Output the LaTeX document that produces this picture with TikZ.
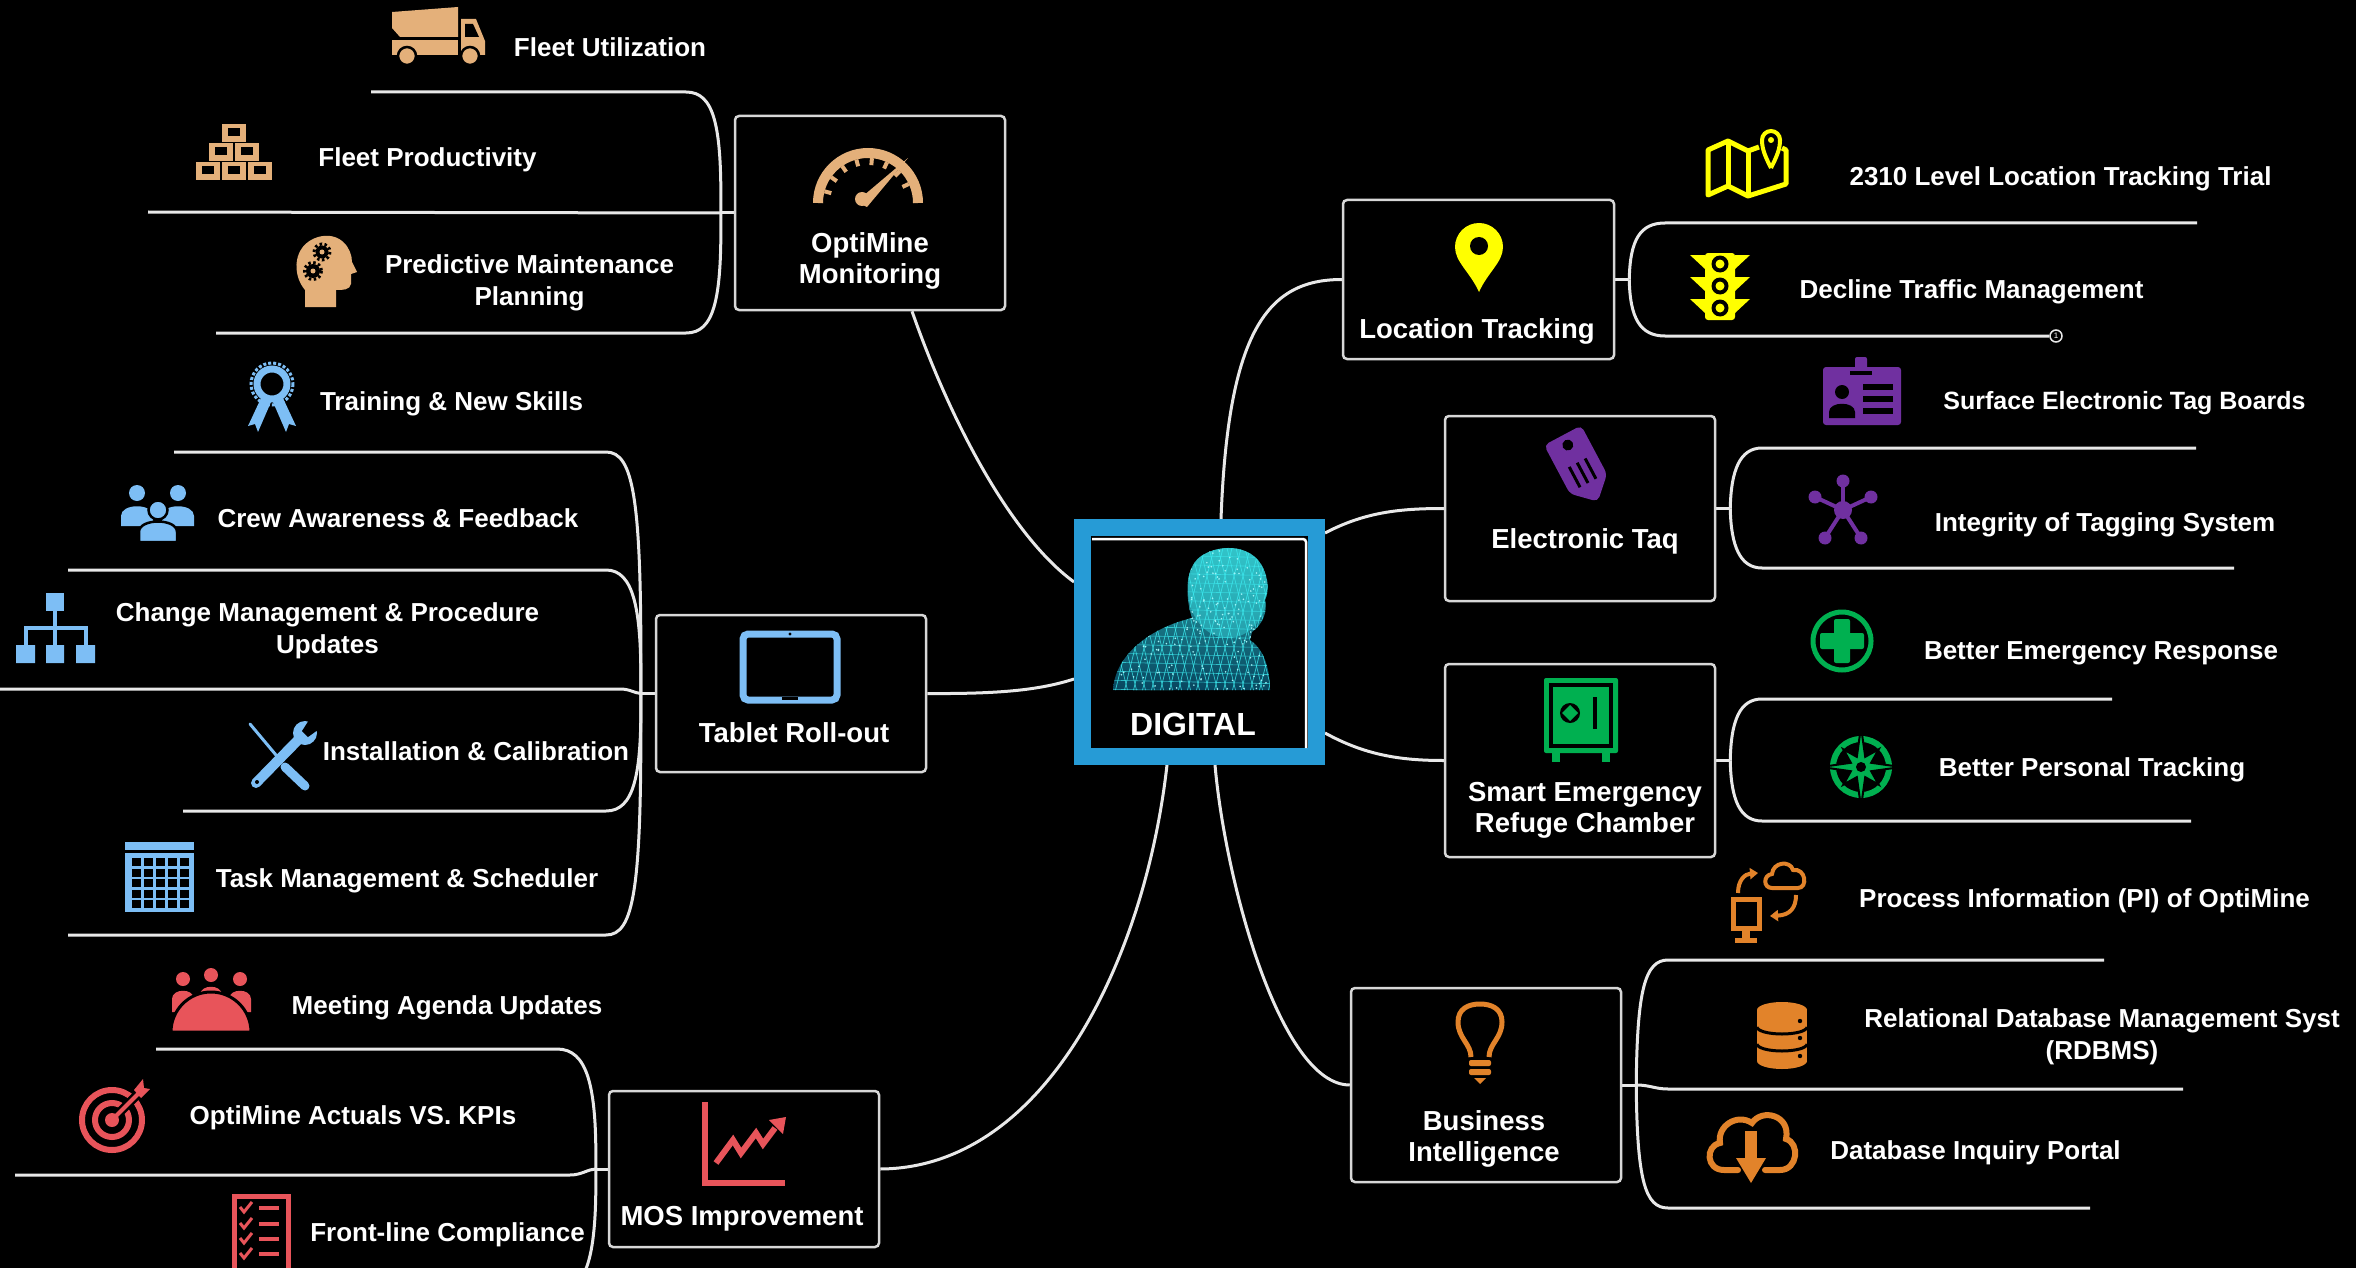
\documentclass[tikz,border=0pt]{standalone}
\usepackage{fontspec}
\setmainfont{Liberation Sans}
\usetikzlibrary{calc,arrows.meta}
\definecolor{lineC}{RGB}{232,232,232}
\definecolor{boxC}{RGB}{215,215,215}
\definecolor{digBlue}{RGB}{38,155,214}
\definecolor{bustC}{RGB}{60,235,240}
\definecolor{bustD}{RGB}{8,70,95}
\definecolor{icTan}{RGB}{228,176,122}
\definecolor{icYel}{RGB}{255,255,0}
\definecolor{icPur}{RGB}{112,48,160}
\definecolor{icGrn}{RGB}{0,176,80}
\definecolor{icOrg}{RGB}{226,131,42}
\definecolor{icBlu}{RGB}{125,190,245}
\definecolor{icRed}{RGB}{232,84,90}
\pgfdeclarelayer{bg}
\pgfsetlayers{bg,main}
\begin{document}
\begin{tikzpicture}[x=1pt,y=-1pt,
  conn/.style={draw=lineC,line width=3},
  box/.style={draw=boxC,line width=2.5,rounded corners=4,minimum width=270,inner sep=0},
  btextm/.style={text=white,font=\bfseries\fontsize{27.5}{31}\selectfont,align=center,inner sep=0},
  btext/.style={btextm,text height=20,text depth=0},
  leafm/.style={text=white,font=\bfseries\fontsize{26}{32}\selectfont,align=center,inner sep=0},
  leaf/.style={leafm,text height=19,text depth=0}]
\useasboundingbox (0,0) rectangle (2356,1268);

% ---------- topic boxes ----------
\node[box,minimum height=194] (opti) at (870,213) {};
\node[box,minimum width=271,minimum height=159] (loc) at (1478.5,279.5) {};
\node[box,minimum height=185] (etag) at (1580,508.5) {};
\node[box,minimum height=193] (smart) at (1580,760.5) {};
\node[box,minimum height=194] (bi) at (1486,1085) {};
\node[box,minimum height=157] (tablet) at (791,693.5) {};
\node[box,minimum height=156] (mos) at (744,1169) {};
\node[draw=digBlue,line width=17,minimum width=234,minimum height=229,inner sep=0] (digital) at (1199.5,642) {};

% ---------- central bust ----------
\shade[top color=bustC!75!black,bottom color=bustD]
  (1113,690) .. controls (1115,655) and (1150,628) .. (1192,618)
  .. controls (1186,600) and (1185,575) .. (1195,562)
  .. controls (1205,548) and (1240,540) .. (1258,560)
  .. controls (1268,572) and (1270,590) .. (1265,600)
  .. controls (1268,612) and (1262,625) .. (1252,632) -- (1250,640)
  .. controls (1262,648) and (1270,665) .. (1270,690) -- cycle;
\begin{scope}
  \clip (1113,690) .. controls (1115,655) and (1150,628) .. (1192,618)
  .. controls (1186,600) and (1185,575) .. (1195,562)
  .. controls (1205,548) and (1240,540) .. (1258,560)
  .. controls (1268,572) and (1270,590) .. (1265,600)
  .. controls (1268,612) and (1262,625) .. (1252,632) -- (1250,640)
  .. controls (1262,648) and (1270,665) .. (1270,690) -- cycle;
  \fill[bustC,opacity=0.4] (1228,590) ellipse (40 and 48);
  \foreach \i in {0,...,24} {
    \draw[bustC,line width=0.7,opacity=0.8] (1090+\i*9,540) -- (1050+\i*9,700);
    \draw[bustC,line width=0.7,opacity=0.8] (1090+\i*9,540) -- (1130+\i*9,700);
  }
  \foreach \j in {0,...,17} {
    \draw[bustC,line width=0.6,opacity=0.7] (1100,545+\j*9) -- (1290,549+\j*9);
  }
  \pgfmathsetseed{11}
  \foreach \k in {1,...,300} {
    \fill[bustC!50!white] ({1110+160*rnd},{540+150*rnd}) circle (0.9);
  }
\end{scope}
\draw[white,line width=2.5] (1092,539) -- (1303,539) arc[start angle=270,end angle=360,radius=3] -- (1306,748);
\node[text=white,font=\bfseries\fontsize{32}{36}\selectfont,inner sep=0,text height=23,text depth=0] (digT) at (1193,724) {DIGITAL};

% ---------- topic labels ----------
\node[btextm] (optiT) at (870,260.5) {OptiMine\\Monitoring};
\node[btext] (locT) at (1477,328) {Location Tracking};
\node[btext] (etagT) at (1585,538) {Electronic Taq};
\node[btextm] (smartT) at (1585,810.5) {Smart Emergency\\Refuge Chamber};
\node[btextm] (biT) at (1484,1139) {Business\\Intelligence};
\node[btext] (tabT) at (794,732) {Tablet Roll-out};
\node[btext] (mosT) at (742,1215) {MOS Improvement};

% ---------- leaf labels ----------
\node[leaf] (fu) at (610,47) {Fleet Utilization};
\node[leaf] (fp) at (427.5,157) {Fleet Productivity};
\node[leafm] (pm) at (529.5,283) {Predictive Maintenance\\Planning};
\node[leaf] (tn) at (451.5,401) {Training \& New Skills};
\node[leaf] (ca) at (398,518) {Crew Awareness \& Feedback};
\node[leafm] (cm) at (327.5,631) {Change Management \& Procedure\\Updates};
\node[leaf] (ic) at (476,751) {Installation \& Calibration};
\node[leaf] (tm) at (407,878) {Task Management \& Scheduler};
\node[leaf] (ma) at (447,1005) {Meeting Agenda Updates};
\node[leaf] (ok) at (353,1115) {OptiMine Actuals VS. KPIs};
\node[leaf] (fc) at (447.5,1232) {Front-line Compliance};
\node[leaf] (lt) at (2060.5,176) {2310 Level Location Tracking Trial};
\node[leaf] (dt) at (1971.5,289) {Decline Traffic Management};
\node[leaf,font=\bfseries\fontsize{25}{30}\selectfont] (sb) at (2124.5,400) {Surface Electronic Tag Boards};
\node[leaf] (it) at (2105,522) {Integrity of Tagging System};
\node[leaf] (er) at (2101,650) {Better Emergency Response};
\node[leaf] (pt) at (2092,767) {Better Personal Tracking};
\node[leaf] (pi) at (2084.5,898) {Process Information (PI) of OptiMine};
\node[leafm] (rd) at (2102,1036.5) {Relational Database Management Syst\\(RDBMS)};
\node[leaf] (di) at (1975.5,1150) {Database Inquiry Portal};
\node[circle,draw=lineC,fill=black,line width=1.5,inner sep=0,minimum size=12,text=white,font=\fontsize{8}{8}\selectfont] (badge) at (2056,336) {1};

% ---------- join points and underline ends ----------
\coordinate (J1) at ($(opti.west)+(-13,0)$);
\coordinate (J2) at ($(tablet.west)+(-14,0)$);
\coordinate (J3) at ($(mos.west)+(-12,0)$);
\coordinate (J4) at ($(loc.east)+(14,0)$);
\coordinate (J5) at ($(etag.east)+(14,0)$);
\coordinate (J6) at ($(smart.east)+(14,0)$);
\coordinate (J7) at ($(bi.east)+(14,0)$);
\coordinate (fuA) at (686,92);   \coordinate (fuB) at (371,92);
\coordinate (fpB) at (148,212);
\coordinate (pmA) at (686,333);  \coordinate (pmB) at (216,333);
\coordinate (tnA) at (606,452);  \coordinate (tnB) at (174,452);
\coordinate (caA) at (606,570);  \coordinate (caB) at (68,570);
\coordinate (cmA) at (620,689);  \coordinate (cmB) at (0,689);
\coordinate (icA) at (606,811);  \coordinate (icB) at (183,811);
\coordinate (tmA) at (606,935);  \coordinate (tmB) at (68,935);
\coordinate (maA) at (557,1049); \coordinate (maB) at (156,1049);
\coordinate (okA) at (570,1175); \coordinate (okB) at (15,1175);
\coordinate (fcA) at (557,1292); \coordinate (fcB) at (150,1292);
\coordinate (ltA) at (1665,223); \coordinate (ltB) at (2197,223);
\coordinate (dtA) at (1665,336);
\coordinate (sbA) at (1762,448); \coordinate (sbB) at (2196,448);
\coordinate (itA) at (1762,568); \coordinate (itB) at (2234,568);
\coordinate (erA) at (1762,699); \coordinate (erB) at (2112,699);
\coordinate (ptA) at (1762,821); \coordinate (ptB) at (2191,821);
\coordinate (piA) at (1668,960); \coordinate (piB) at (2104,960);
\coordinate (rdA) at (1668,1089); \coordinate (rdB) at (2183,1089);
\coordinate (diA) at (1668,1208); \coordinate (diB) at (2090,1208);

% ---------- connectors (behind the nodes) ----------
\begin{pgfonlayer}{bg}
\fill[black] (0,0) rectangle (2356,1268);
% central links
\draw[conn] ($(opti.south)+(42,0)$) .. controls (950,420) and (1010,535) .. ($(digital.west)+(0,-60)$);
\draw[conn] (tablet.east) .. controls (1000,694) and (1040,690) .. ($(digital.west)+(0,37)$);
\draw[conn] (mos.east) .. controls (1045,1168) and (1145,960) .. ($(digital.south)+(-32.5,0)$);
\draw[conn] ($(digital.north)+(21.5,0)$) .. controls (1228,330) and (1268,279.5) .. (loc.west);
\draw[conn] ($(digital.east)+(0,-109)$) .. controls (1365,512) and (1400,508.5) .. (etag.west);
\draw[conn] ($(digital.east)+(0,91)$) .. controls (1365,755) and (1400,760.5) .. (smart.west);
\draw[conn] ($(digital.south)+(15.5,0)$) .. controls (1225,880) and (1280,1085) .. (bi.west);
% OptiMine Monitoring branch
\draw[conn] (opti.west) -- (J1);
\draw[conn] (J1) .. controls (722,125) and (714,92) .. (fuA) -- (fuB);
\draw[conn] (J1) -- (fpB);
\draw[conn] (J1) .. controls (722,300) and (714,333) .. (pmA) -- (pmB);
% Tablet Roll-out branch
\draw[conn] (tablet.west) -- (J2);
\draw[conn] (J2) .. controls (642,500) and (634,452) .. (tnA) -- (tnB);
\draw[conn] (J2) .. controls (642,610) and (634,570) .. (caA) -- (caB);
\draw[conn] (J2) .. controls (634,693) and (630,689) .. (cmA) -- (cmB);
\draw[conn] (J2) .. controls (642,775) and (634,811) .. (icA) -- (icB);
\draw[conn] (J2) .. controls (642,890) and (634,935) .. (tmA) -- (tmB);
% MOS Improvement branch
\draw[conn] (mos.west) -- (J3);
\draw[conn] (J3) .. controls (597,1085) and (587,1049) .. (maA) -- (maB);
\draw[conn] (J3) .. controls (588,1169) and (582,1175) .. (okA) -- (okB);
\draw[conn] (J3) .. controls (597,1255) and (587,1292) .. (fcA) -- (fcB);
% Location Tracking branch
\draw[conn] (loc.east) -- (J4);
\draw[conn] (J4) .. controls (1630,240) and (1640,223) .. (ltA) -- (ltB);
\draw[conn] (J4) .. controls (1630,318) and (1640,336) .. (dtA) -- (badge.west);
% Electronic Tag branch
\draw[conn] (etag.east) -- (J5);
\draw[conn] (J5) .. controls (1731,470) and (1740,448) .. (sbA) -- (sbB);
\draw[conn] (J5) .. controls (1731,546) and (1740,568) .. (itA) -- (itB);
% Smart Emergency Refuge Chamber branch
\draw[conn] (smart.east) -- (J6);
\draw[conn] (J6) .. controls (1731,720) and (1740,699) .. (erA) -- (erB);
\draw[conn] (J6) .. controls (1731,800) and (1740,821) .. (ptA) -- (ptB);
% Business Intelligence branch
\draw[conn] (bi.east) -- (J7);
\draw[conn] (J7) .. controls (1637,990) and (1645,960) .. (piA) -- (piB);
\draw[conn] (J7) .. controls (1650,1085) and (1655,1089) .. (rdA) -- (rdB);
\draw[conn] (J7) .. controls (1637,1180) and (1645,1208) .. (diA) -- (diB);
\end{pgfonlayer}

% ================= icons =================
% -- dump truck
\fill[icTan] (392,12) -- (458,7) -- (458,37) -- (400,37) -- (392,28) -- cycle;
\fill[icTan] (392,40) rectangle (458,55);
\fill[icTan] (461,19) -- (476,19) -- (485,41) -- (485,55) -- (461,55) -- cycle;
\fill[black] (465,24) -- (473,24) -- (479,37) -- (465,37) -- cycle;
\filldraw[fill=icTan,draw=black,line width=2.5] (407,56) circle (9) (470,56) circle (9);
% -- stacked blocks
\foreach \x/\y in {196/162,222/162,248/162,209/143,235/143,222/124} {
  \fill[icTan] (\x,\y) rectangle ++(24,18);
  \fill[black] (\x+6,\y+4) rectangle ++(12,8);
}
% -- head with gears
\fill[icTan] (305,307) -- (305,290) .. controls (292,275) and (292,245) .. (318,237)
  .. controls (340,231) and (352,248) .. (352,262) -- (357,272) -- (351,274) -- (351,284)
  .. controls (350,290) and (343,290) .. (336,290) -- (336,307) -- cycle;
\fill[black] (322,252) circle (6.5);
\draw[black,line width=3,dash pattern=on 2.5 off 2.5] (322,252) circle (8);
\fill[icTan] (322,252) circle (2.5);
\fill[black] (313,271) circle (7);
\draw[black,line width=3,dash pattern=on 2.5 off 2.5] (313,271) circle (8.5);
\fill[icTan] (313,271) circle (2.5);
% -- gauge
\draw[icTan,line width=10] (818,203) arc[start angle=180,end angle=360,radius=50];
\foreach \a in {195,215,...,335} {
  \draw[icTan,line width=4] ([shift={(\a:45)}]868,203) -- ([shift={(\a:38)}]868,203);
}
\fill[icTan] (862,199) circle (7);
\fill[icTan] (856,202) -- (908,158) -- (867,207) -- cycle;
% -- location pin
\fill[icYel] (1479,292) .. controls (1470,272) and (1455,262) .. (1455,247)
  arc[start angle=180,end angle=360,radius=24] .. controls (1503,262) and (1488,272) .. (1479,292) -- cycle;
\fill[black] (1479,246) circle (9);
% -- folded map with pin
\draw[icYel,line width=5,line join=round] (1759,147) -- (1748,151) -- (1728,141) -- (1708,150) -- (1708,195)
  -- (1728,186) -- (1748,196) -- (1786,184) -- (1786,150) -- (1782,148);
\draw[icYel,line width=5] (1728,141) -- (1728,186) (1748,151) -- (1748,196);
\draw[icYel,line width=4] (1771,168) .. controls (1765,156) and (1762,149) .. (1762,140)
  arc[start angle=180,end angle=360,radius=9] .. controls (1780,149) and (1777,156) .. (1771,168);
\fill[icYel] (1771,140) circle (3);
% -- traffic light
\fill[icYel,rounded corners=3] (1705,253) rectangle (1735,320);
\foreach \y in {264,286,308} {
  \fill[icYel] (1690,\y-9) -- (1705,\y-9) -- (1705,\y+5) -- cycle;
  \fill[icYel] (1750,\y-9) -- (1735,\y-9) -- (1735,\y+5) -- cycle;
  \fill[black] (1720,\y) circle (8.5);
  \fill[icYel] (1720,\y) circle (4.5);
}
% -- ID badge
\fill[icPur,rounded corners=3] (1823,367) rectangle (1901,425);
\fill[icPur,rounded corners=2] (1855,357) rectangle (1867,372);
\fill[black] (1850,371) rectangle (1872,375);
\fill[black] (1842,392) circle (7);
\fill[black] (1829,418) -- (1829,412) .. controls (1829,401) and (1855,401) .. (1855,412) -- (1855,418) -- cycle;
\fill[black] (1863,384) rectangle (1893,390);
\fill[black] (1863,396) rectangle (1893,402);
\fill[black] (1863,408) rectangle (1893,414);
% -- tag
\begin{scope}[shift={(1580,468)},rotate=-62]
  \fill[icPur,rounded corners=5] (-37,-21) -- (18,-21) -- (38,0) -- (18,21) -- (-37,21) -- cycle;
  \fill[black] (-26,0) circle (5.5);
  \foreach \s in {-9,0,9} {\draw[black,line width=3] (-6,\s) -- (17,\s);}
\end{scope}
% -- network hub
\foreach \x/\y in {1843/481,1815/497,1871/497,1825/538,1861/538} {
  \draw[icPur,line width=4] (1843,510) -- (\x,\y);
  \fill[icPur] (\x,\y) circle (6.5);
}
\fill[icPur] (1843,510) circle (9);
% -- safe
\fill[icGrn,rounded corners=2] (1544,678) rectangle (1618,753);
\fill[black] (1549,683) rectangle (1613,748);
\fill[icGrn] (1553,687) rectangle (1609,744);
\fill[black] (1570,713) circle (10);
\fill[icGrn] (1570,705) -- (1578,713) -- (1570,721) -- (1562,713) -- cycle;
\fill[black] (1593,697) rectangle (1597,729);
\fill[icGrn] (1552,753) rectangle (1560,762);
\fill[icGrn] (1602,753) rectangle (1610,762);
% -- first aid
\draw[icGrn,line width=5] (1842,641) circle (29);
\fill[icGrn,rounded corners=2] (1834,619) rectangle (1850,663);
\fill[icGrn,rounded corners=2] (1820,633) rectangle (1864,649);
% -- compass
\draw[icGrn,line width=6] (1861,767) circle (28);
\begin{scope}[shift={(1861,767)}]
  \filldraw[fill=icGrn,draw=black,line width=2] (0:40) -- (22.5:11) -- (45:25) -- (67.5:11) -- (90:40)
    -- (112.5:11) -- (135:25) -- (157.5:11) -- (180:40) -- (202.5:11) -- (225:25) -- (247.5:11)
    -- (270:40) -- (292.5:11) -- (315:25) -- (337.5:11) -- cycle;
  \fill[black] (0,0) circle (5);
\end{scope}
% -- light bulb
\draw[icOrg,line width=5] (1471,1057) .. controls (1471,1044) and (1458,1038) .. (1458,1022)
  .. controls (1458,1009) and (1468,1004) .. (1480,1004) .. controls (1492,1004) and (1502,1009) .. (1502,1022)
  .. controls (1502,1038) and (1489,1044) .. (1489,1057);
\fill[icOrg,rounded corners=2] (1469,1060) rectangle (1491,1066);
\fill[icOrg,rounded corners=2] (1469,1069) rectangle (1491,1075);
\fill[icOrg] (1474,1078) -- (1486,1078) -- (1480,1084) -- cycle;
% -- computer and cloud sync
\draw[icOrg,line width=5] (1733,899) rectangle (1759,928);
\fill[icOrg] (1742,930) rectangle (1750,938);
\fill[icOrg] (1735,938) rectangle (1757,943);
\draw[icOrg,line width=4] (1772,888) .. controls (1763,888) and (1763,875) .. (1772,874)
  .. controls (1773,862) and (1790,860) .. (1793,870) .. controls (1806,868) and (1808,888) .. (1798,888) -- cycle;
\draw[icOrg,line width=4,-{Triangle[length=8,width=11]}] (1738,893) .. controls (1738,880) and (1745,874) .. (1758,873);
\draw[icOrg,line width=4,-{Triangle[length=8,width=11]}] (1796,895) .. controls (1796,908) and (1790,915) .. (1770,916);
% -- database
\fill[icOrg] (1757,1010) rectangle (1807,1061);
\fill[icOrg] (1782,1010) ellipse (25 and 8);
\fill[icOrg] (1782,1061) ellipse (25 and 8);
\draw[black,line width=3] (1757,1027) arc[start angle=180,end angle=0,x radius=25,y radius=7];
\draw[black,line width=3] (1757,1044) arc[start angle=180,end angle=0,x radius=25,y radius=7];
\fill[black] (1800,1021) circle (2.2) (1800,1038) circle (2.2) (1800,1056) circle (2.2);
% -- cloud download
\draw[icOrg,line width=6,line cap=round] (1738,1170) -- (1724,1170) .. controls (1706,1170) and (1705,1146) .. (1720,1143)
  .. controls (1717,1126) and (1737,1113) .. (1752,1123) .. controls (1762,1108) and (1791,1115) .. (1786,1139)
  .. controls (1800,1143) and (1798,1170) .. (1780,1170) -- (1765,1170);
\fill[icOrg] (1745,1131) rectangle (1757,1160);
\fill[icOrg] (1736,1158) -- (1766,1158) -- (1751,1183) -- cycle;
% -- award ribbon
\fill[icBlu] (262,396) -- (271,402) -- (258,432) -- (255,424) -- (248,426) -- cycle;
\fill[icBlu] (282,396) -- (273,402) -- (286,432) -- (289,424) -- (296,426) -- cycle;
\draw[icBlu,line width=3,dash pattern=on 3 off 2] (272,384) circle (21);
\draw[icBlu,line width=7] (272,384) circle (15);
% -- crew
\fill[icBlu] (137,493) circle (8) (178,493) circle (8);
\fill[icBlu] (121,526) -- (121,516) .. controls (121,503) and (153,503) .. (153,516) -- (153,526) -- cycle;
\fill[icBlu] (162,526) -- (162,516) .. controls (162,503) and (194,503) .. (194,516) -- (194,526) -- cycle;
\filldraw[fill=icBlu,draw=black,line width=2.5] (158,510) circle (9.5);
\filldraw[fill=icBlu,draw=black,line width=2.5] (139,542) -- (139,532) .. controls (139,518) and (177,518) .. (177,532) -- (177,542) -- cycle;
% -- org chart
\fill[icBlu] (46,593) rectangle (64,611);
\draw[icBlu,line width=4] (55,611) -- (55,628) (25.5,628) -- (85.5,628) (25.5,626) -- (25.5,645) (55,628) -- (55,645) (85.5,626) -- (85.5,645);
\fill[icBlu] (16,645) rectangle (35,663) (46,645) rectangle (64,663) (76,645) rectangle (95,663);
% -- tools
\draw[icBlu,line width=3,line cap=round] (250,724) -- (281,761);
\draw[icBlu,line width=9,line cap=round] (285,767) -- (305,786);
\draw[icBlu,line width=10,line cap=round] (256,783) -- (300,738);
\fill[icBlu] (305,733) circle (12);
\fill[black] (302,731) -- (311,717) -- (322,727) -- (308,737) -- cycle;
\fill[black] (257,782) circle (2);
% -- calendar
\fill[icBlu] (125,842) rectangle (194,850);
\fill[icBlu] (125,853) rectangle (194,912);
\foreach \i in {0,...,4} {\foreach \j in {0,...,4} {
  \fill[black] (132+\i*12,858+\j*10.5) rectangle ++(9,8);
}}
% -- tablet
\draw[icBlu,line width=7,rounded corners=5] (743,634) rectangle (837,700);
\fill[black] (790,634) circle (1.6);
\fill[black] (782,697) rectangle (798,700);
% -- meeting
\fill[icRed] (183,979) circle (7) (211,975) circle (7) (240,979) circle (7);
\fill[icRed] (172,1012) -- (172,999) .. controls (172,988) and (194,988) .. (194,999) -- (194,1012) -- cycle;
\fill[icRed] (200,1008) -- (200,995) .. controls (200,984) and (222,984) .. (222,995) -- (222,1008) -- cycle;
\fill[icRed] (229,1012) -- (229,999) .. controls (229,988) and (251,988) .. (251,999) -- (251,1012) -- cycle;
\filldraw[fill=icRed,draw=black,line width=3] (171,1032) arc[start angle=180,end angle=360,radius=40] -- cycle;
% -- target
\draw[icRed,line width=6] (112,1120) circle (30);
\draw[icRed,line width=6] (112,1120) circle (17);
\fill[icRed] (112,1120) circle (7);
\draw[black,line width=9] (118,1114) -- (140,1092);
\draw[icRed,line width=4] (112,1120) -- (140,1092);
\fill[icRed] (134,1090) -- (143,1079) -- (144,1088) -- (150,1089) -- (141,1098) -- cycle;
% -- checklist
\draw[icRed,line width=5] (234,1196) rectangle (288,1292);
\foreach \y in {1207,1223,1238,1253} {
  \draw[icRed,line width=3] (240,\y) -- (244,\y+5) -- (252,\y-5);
  \draw[icRed,line width=4] (259,\y+1) -- (279,\y+1);
}
% -- growth chart
\draw[icRed,line width=6] (705,1102) -- (705,1183) -- (785,1183);
\draw[icRed,line width=6] (716,1163) -- (733,1140) -- (741,1153) -- (756,1133) -- (763,1144) -- (775,1128);
\fill[icRed] (769,1120) -- (786,1117) -- (783,1134) -- cycle;
\end{tikzpicture}
\end{document}
